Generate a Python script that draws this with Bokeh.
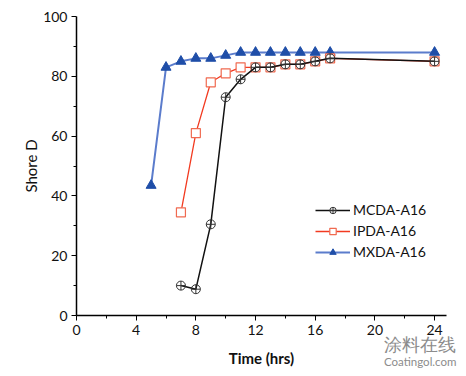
from bokeh.plotting import figure
from bokeh.models import Range1d, Legend, LegendItem, FixedTicker, Div
from bokeh.layouts import column
from bokeh.embed import file_html
from bokeh.resources import INLINE

# Data
mcda_x = [7, 8, 9, 10, 11, 12, 13, 14, 15, 16, 17, 24]
mcda_y = [10, 8.8, 30.5, 73, 79, 83, 83, 84, 84, 85, 86, 85]
ipda_x = [7, 8, 9, 10, 11, 12, 13, 14, 15, 16, 17, 24]
ipda_y = [34.5, 61, 78, 81, 83, 83, 83, 84, 84, 85, 86, 85]
mxda_x = [5, 6, 7, 8, 9, 10, 11, 12, 13, 14, 15, 16, 17, 24]
mxda_y = [43.5, 83, 85, 86, 86, 87, 88, 88, 88, 88, 88, 88, 88, 88]
x_ticks = [0, 4, 8, 12, 16, 20, 24]
y_ticks = [0, 20, 40, 60, 80, 100]

FONT = "Lato"

fig = figure(frame_width=370, frame_height=299, output_backend="svg", toolbar_location=None,
             x_range=Range1d(0, 24.8), y_range=Range1d(0, 100),
             min_border_left=76, min_border_right=12, min_border_top=16, min_border_bottom=50)
fig.outline_line_color = None
fig.grid.visible = False
fig.background_fill_color = "white"
fig.border_fill_color = "white"

for ax in (fig.xaxis[0], fig.yaxis[0]):
    ax.axis_line_color = "black"
    ax.axis_line_width = 1.5
    ax.major_tick_line_color = "black"
    ax.minor_tick_line_color = "black"
    ax.major_tick_in = 0
    ax.major_tick_out = 5
    ax.minor_tick_in = 0
    ax.minor_tick_out = 3
    ax.major_label_text_font = FONT
    ax.major_label_text_font_size = "14px"
    ax.major_label_text_color = "#111"
    ax.axis_label_text_font = FONT
    ax.axis_label_text_font_size = "15px"
    ax.axis_label_text_font_style = "normal"
    ax.axis_label_text_color = "#111"

fig.xaxis.ticker = FixedTicker(ticks=x_ticks, minor_ticks=[2, 6, 10, 14, 18, 22])
fig.yaxis.ticker = FixedTicker(ticks=y_ticks, minor_ticks=[10, 30, 50, 70, 90])
fig.xaxis.major_label_standoff = 4
fig.yaxis.major_label_standoff = 4
fig.xaxis.axis_label = "Time (hrs)"
fig.xaxis.axis_label_text_font_style = "bold"
fig.xaxis.axis_label_standoff = 11
fig.yaxis.axis_label = "Shore D"
fig.yaxis.axis_label_standoff = 0

# MXDA
l3 = fig.line(mxda_x, mxda_y, line_color="#5b7ccc", line_width=2)
m3 = fig.scatter(mxda_x, mxda_y, marker="triangle", size=10, fill_color="#1f4ea8", line_color="#1f4ea8")
# IPDA
l2 = fig.line(ipda_x, ipda_y, line_color="#f23a20", line_width=1.3)
m2 = fig.scatter(ipda_x, ipda_y, marker="square", size=9, fill_color="white", line_color="#f06a50", line_width=1.2)
# MCDA
l1 = fig.line(mcda_x, mcda_y, line_color="#111", line_width=1.5)
m1 = fig.scatter(mcda_x, mcda_y, marker="circle_cross", size=9, fill_color=None, line_color="#333", line_width=1)

legend = Legend(items=[
    LegendItem(label="MCDA-A16", renderers=[l1, m1]),
    LegendItem(label="IPDA-A16", renderers=[l2, m2]),
    LegendItem(label="MXDA-A16", renderers=[l3, m3]),
], location=(239, 55))
legend.border_line_color = None
legend.background_fill_alpha = 0
legend.label_text_font = FONT
legend.label_text_font_size = "14px"
legend.label_text_color = "#111"
legend.glyph_width = 35
legend.glyph_height = 16
legend.label_height = 16
legend.label_standoff = 3
legend.spacing = 4
legend.padding = 5
legend.margin = 0
fig.add_layout(legend, "center")

watermark = Div(
    text='<div style="color:#8c8c8c;font-family:Lato;line-height:1.0;white-space:nowrap">'
         '<div style="font-size:18px;letter-spacing:0px">涂料在线</div>'
         '<div style="font-size:11.5px;margin-top:3px">Coatingol.com</div></div>',
    styles={"position": "absolute", "left": "379px", "top": "330px"},
)

p = column(fig, watermark)

open("out.html", "w").write(file_html(p, INLINE))
